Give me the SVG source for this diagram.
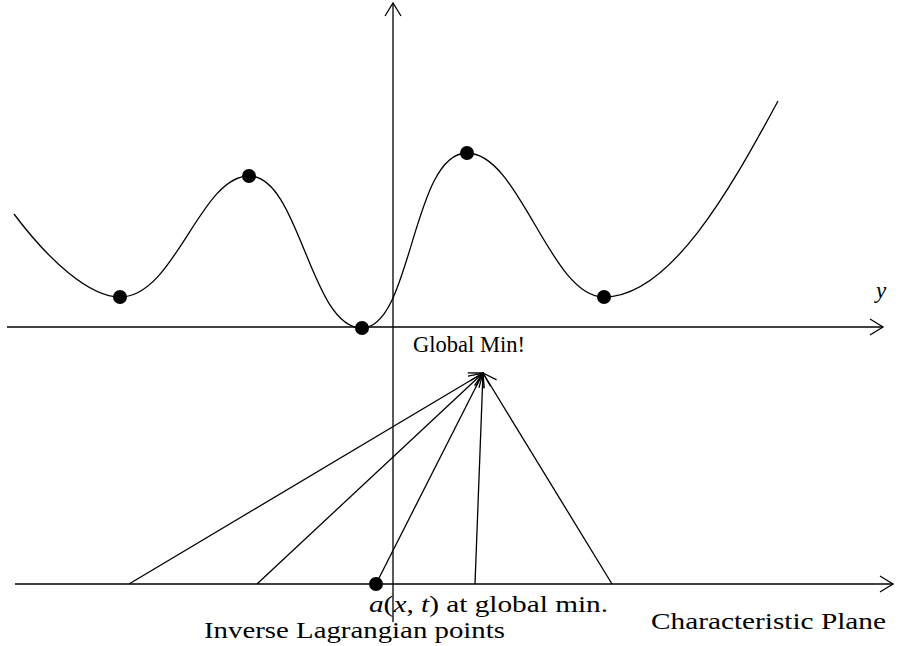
<svg xmlns="http://www.w3.org/2000/svg" width="900" height="646" viewBox="0 0 900 646">
<defs>
<marker id="ah" markerUnits="userSpaceOnUse" markerWidth="30" markerHeight="30" viewBox="-20 -15 30 30" refX="0" refY="0" orient="auto">
<path d="M -13 -8 L 0 0 L -13 8" fill="none" stroke="#000" stroke-width="1.3"/>
</marker>
<style>
.ax{stroke:#000;stroke-width:1.3;fill:none}
.ln{stroke:#000;stroke-width:1.3;fill:none}
.dot{fill:#000}
text{font-family:"Liberation Serif","DejaVu Serif",serif;font-size:23px;fill:#000}
.it{font-style:italic}
</style>
</defs>
<g id="axes">
<line class="ax" x1="393" y1="622" x2="393" y2="3" marker-end="url(#ah)"/>
<line class="ax" x1="7" y1="327" x2="883" y2="327" marker-end="url(#ah)"/>
<line class="ax" x1="15" y1="584" x2="893" y2="584" marker-end="url(#ah)"/>
</g>
<g id="curve">
<path class="ln" d="M 14 214 C 50 262 90 297 120 297 C 175 297 200 176 249 176 C 300 176 310 328 362 328 C 412 328 412 153 467 153 C 520 153 550 297 604 297 C 670 297 730 190 778 101"/>
</g>
<g id="dots">
<circle class="dot" cx="120" cy="297" r="7"/>
<circle class="dot" cx="249" cy="176" r="7"/>
<circle class="dot" cx="362" cy="328" r="7"/>
<circle class="dot" cx="467" cy="153" r="7"/>
<circle class="dot" cx="604" cy="297" r="7"/>
<circle class="dot" cx="376" cy="584" r="7"/>
</g>
<g id="connectors">
<line class="ln" x1="129" y1="584" x2="483" y2="373" marker-end="url(#ah)"/>
<line class="ln" x1="257" y1="584" x2="483" y2="373" marker-end="url(#ah)"/>
<line class="ln" x1="376" y1="584" x2="483" y2="373" marker-end="url(#ah)"/>
<line class="ln" x1="475" y1="584" x2="483" y2="373" marker-end="url(#ah)"/>
<line class="ln" x1="612" y1="584" x2="483" y2="373" marker-end="url(#ah)"/>
</g>
<g id="labels">
<text class="it" x="876" y="298">y</text>
<text x="413" y="352" textLength="112" lengthAdjust="spacingAndGlyphs">Global Min!</text>
<text x="369" y="612" textLength="239" lengthAdjust="spacingAndGlyphs"><tspan class="it">a</tspan>(<tspan class="it">x</tspan>, <tspan class="it">t</tspan>) at global min.</text>
<text x="204" y="638" textLength="301" lengthAdjust="spacingAndGlyphs">Inverse Lagrangian points</text>
<text x="651" y="629" textLength="235" lengthAdjust="spacingAndGlyphs">Characteristic Plane</text>
</g>
</svg>
